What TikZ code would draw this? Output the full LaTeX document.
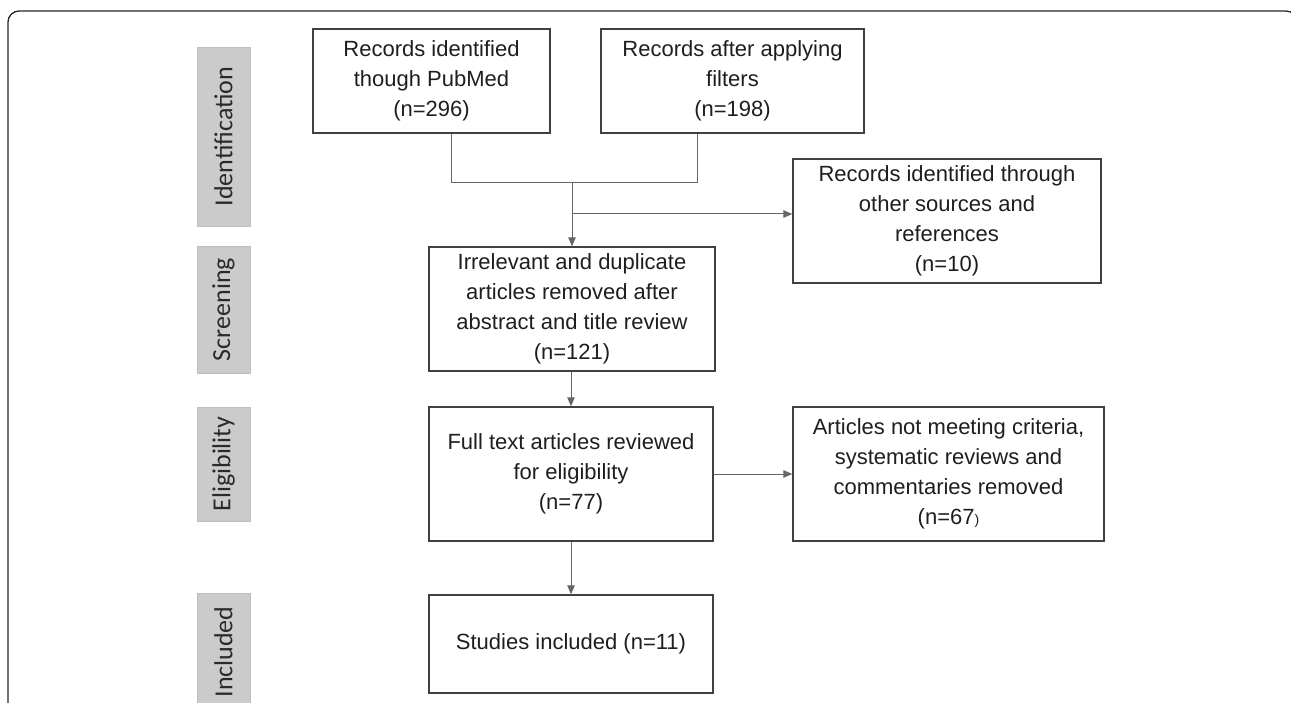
\documentclass[tikz,border=0pt]{standalone}
\usepackage{fontspec}
\setmainfont{Liberation Sans}
\newfontfamily\labfont{Carlito}
\usetikzlibrary{arrows.meta}
\definecolor{boxline}{HTML}{404040}
\definecolor{connline}{HTML}{666666}
\definecolor{labfill}{HTML}{CBCBCB}
\definecolor{labline}{HTML}{BDBDBD}
\definecolor{txt}{HTML}{1E1E1E}
\definecolor{labtxt}{HTML}{2A2A2A}
\tikzset{
  flowbox/.style={draw=boxline, line width=1.4pt, rectangle, inner sep=0pt, align=center,
    text=txt, font=\fontsize{22}{30}\selectfont},
  phase/.style={draw=labline, line width=0.8pt, fill=labfill, rectangle, inner sep=0pt,
    minimum width=53pt},
  phasetext/.style={rotate=90, text=labtxt, font=\labfont\fontsize{26}{30}\selectfont, inner sep=0pt},
  conn/.style={draw=connline, line width=1pt},
  arr/.style={conn, -{Triangle[length=9pt,width=7.5pt]}},
  frame/.style={draw=black!85, line width=1.3pt, rounded corners=11pt}
}
\begin{document}
\begin{tikzpicture}[x=1pt,y=-1pt]
\useasboundingbox (0,0) rectangle (1291,703);
\clip (0,0) rectangle (1291,703);
% outer frame
\draw[frame] (8,740) -- (8,11) -- (1297,11) -- (1297,740);
% phase labels
\node[phase, minimum height=179pt] (l1) at (223.5,136.5) {};
\node[phasetext] at (l1.center) {Identification};
\node[phase, minimum height=127pt] (l2) at (223.5,309.5) {};
\node[phasetext] at (l2.center) {Screening};
\node[phase, minimum height=114pt] (l3) at (223.5,464) {};
\node[phasetext] at (l3.center) {Eligibility};
\node[phase, minimum height=118pt] (l4) at (223.5,652) {};
\node[phasetext] at (l4.center) {Included};
% boxes
\node[flowbox, minimum width=237pt, minimum height=104pt] (b1) at (431.5,81)
  {Records identified\\though PubMed\\(n=296)};
\node[flowbox, minimum width=263pt, minimum height=104pt] (b2) at (732.5,81)
  {Records after applying\\filters\\(n=198)};
\node[flowbox, minimum width=308pt, minimum height=124pt] (b3) at (947,221)
  {Records identified through\\other sources and\\references\\(n=10)};
\node[flowbox, minimum width=286pt, minimum height=124pt] (b4) at (572,309)
  {Irrelevant and duplicate\\articles removed after\\abstract and title review\\(n=121)};
\node[flowbox, minimum width=284pt, minimum height=134pt] (b5) at (571,474)
  {Full text articles reviewed\\for eligibility\\(n=77)};
\node[flowbox, minimum width=311pt, minimum height=134pt] (b6) at (948.5,474)
  {Articles not meeting criteria,\\systematic reviews and\\commentaries removed\\(n=67{\fontsize{14}{30}\selectfont)}};
\node[flowbox, minimum width=284pt, minimum height=98pt] (b7) at (571,644)
  {Studies included (n=11)};
% connectors
\coordinate (p1) at (451,183);
\coordinate (p2) at (697,183);
\coordinate (j) at (572,183);
\coordinate (br) at (572,214);
\draw[conn] (b1.south -| p1) -- (p1) -- (p2) -- (b2.south -| p2);
\draw[arr] (j) -- (b4.north -| j);
\draw[arr] (br) -- (b3.west |- br);
\draw[arr] (b4.south -| b5.north) -- (b5.north);
\draw[arr] (b5.east) -- (b6.west |- b5.east);
\draw[arr] (b5.south) -- (b7.north);
\end{tikzpicture}
\end{document}
